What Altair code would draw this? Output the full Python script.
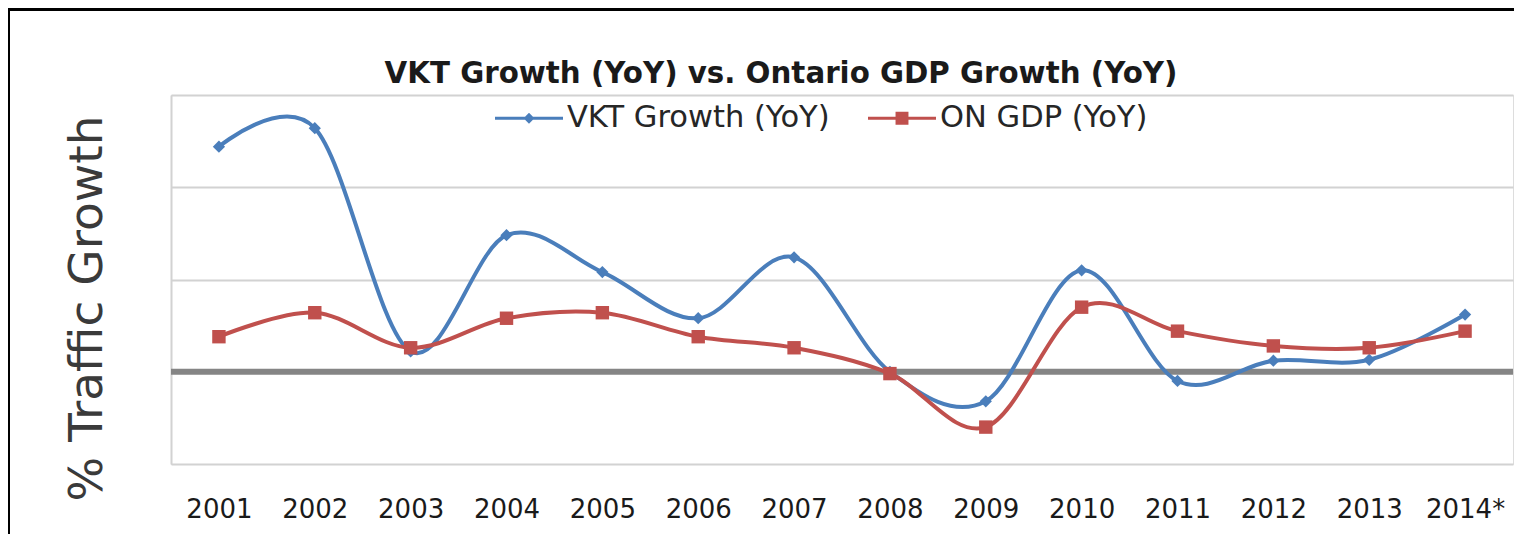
import altair as alt
import pandas as pd

years = ["2001", "2002", "2003", "2004", "2005", "2006", "2007",
         "2008", "2009", "2010", "2011", "2012", "2013", "2014*"]
vkt_growth = [12.2, 13.2, 1.1, 7.4, 5.4, 2.9, 6.2, 0.0, -1.6, 5.5, -0.5, 0.6, 0.65, 3.1]
gdp_growth = [1.9, 3.2, 1.3, 2.9, 3.2, 1.9, 1.3, -0.1, -3.0, 3.5, 2.2, 1.4, 1.3, 2.2]
series_names = ["VKT Growth (YoY)", "ON GDP (YoY)"]
series_colors = ["#4a7ebb", "#c0504d"]
y_ticks = [-5, 0, 5, 10, 15]

rows = []
for name, vals in zip(series_names, [vkt_growth, gdp_growth]):
    for yr, v in zip(years, vals):
        rows.append({"year": yr, "value": v, "series": name})
df = pd.DataFrame(rows)

FONT = "DejaVu Sans"

x_enc = alt.X("year:O", sort=years, title=None,
              axis=alt.Axis(labelAngle=0, domain=False, ticks=False, tickSize=0,
                            labelFont=FONT, labelFontSize=26, labelColor="#1a1a1a",
                            labelBaseline="alphabetic", labelPadding=53, grid=False))
y_enc = alt.Y("value:Q", scale=alt.Scale(domain=[-5, 15], nice=False, zero=False),
              title="% Traffic Growth",
              axis=alt.Axis(values=y_ticks, labels=False, ticks=False, tickSize=0,
                            grid=True, gridColor="#d2d2d2", gridWidth=2,
                            domain=True, domainColor="#d2d2d2", domainWidth=2,
                            titleFont=FONT, titleFontSize=47, titleFontWeight="normal",
                            titleColor="#3a3a3a", titleAngle=270,
                            titleX=-70, titleY=213, titleBaseline="alphabetic",
                            titleAlign="center"))

base = alt.Chart(df)

zero_rule = alt.Chart(alt.Data(values=[{}])).mark_rule(color="#858585", strokeWidth=6).encode(
    y=alt.datum(0, scale=alt.Scale(domain=[-5, 15]))
)

def series_layers(name, color, shape, size):
    sub = base.transform_filter(alt.datum.series == name)
    line = sub.mark_line(interpolate="cardinal", strokeWidth=4, color=color).encode(
        x=x_enc, y=y_enc)
    pts = sub.mark_point(filled=True, shape=shape, size=size, opacity=1, color=color).encode(
        x=x_enc, y=y_enc)
    return [line, pts]

legend_paths = [
    "M-1,-0.045H1V0.045H-1Z M0,-0.16L0.16,0L0,0.16L-0.16,0Z",
    "M-1,-0.045H1V0.045H-1Z M-0.19,-0.19H0.19V0.19H-0.19Z",
]
legend_kw = dict(orient="none", legendX=324, legendY=-11, direction="horizontal",
                 title=None, labelFont=FONT, labelFontSize=30.5, labelColor="#262626",
                 labelLimit=500, symbolSize=4624, symbolStrokeWidth=0, labelOffset=4,
                 columnPadding=38, padding=0, symbolOpacity=1)
legend_layer = base.transform_filter("false").mark_point(filled=True, size=4624, opacity=1).encode(
    color=alt.Color("series:N", scale=alt.Scale(domain=series_names, range=series_colors),
                    legend=alt.Legend(**legend_kw)),
    shape=alt.Shape("series:N", scale=alt.Scale(domain=series_names, range=legend_paths),
                    legend=alt.Legend(**legend_kw)),
)

frame = alt.Chart(alt.Data(values=[{}]))
frame_left = frame.mark_rule(color="#000000", strokeWidth=3).encode(
    x=alt.value(-162.5), y=alt.value(-86), y2=alt.value(460))
frame_top = frame.mark_rule(color="#000000", strokeWidth=3).encode(
    x=alt.value(-163), x2=alt.value(1360), y=alt.value(-85.5))

layers = [zero_rule] + series_layers(series_names[0], series_colors[0], "diamond", 150) + \
    series_layers(series_names[1], series_colors[1], "square", 180) + \
    [legend_layer, frame_left, frame_top]

chart = alt.layer(*layers).properties(
    width=1342, height=369,
    autosize=alt.AutoSizeParams(type="none"),
    padding={"left": 163, "top": 87, "right": 1, "bottom": 70},
    title=alt.TitleParams(
        "VKT Growth (YoY) vs. Ontario GDP Growth (YoY)",
        font=FONT, fontSize=29.3, fontWeight="bold", color="#1a1a1a",
        anchor="middle", frame="group", dx=-61, baseline="alphabetic", offset=-105),
).configure_view(strokeWidth=0).configure(background="#ffffff")

chart.save("out.html", embed_options={"renderer": "svg", "actions": False})
